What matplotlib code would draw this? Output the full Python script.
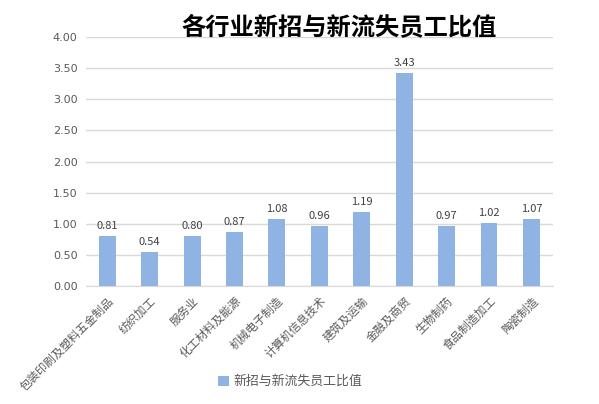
import matplotlib
matplotlib.use("Agg")
import matplotlib.pyplot as plt

plt.rcParams['font.family'] = ['Noto Sans CJK SC', 'DejaVu Sans']

categories = ['包装印刷及塑料五金制品', '纺织加工', '服务业', '化工材料及能源', '机械电子制造',
              '计算机信息技术', '建筑及运输', '金融及商贸', '生物制药', '食品制造加工', '陶瓷制造']
values = [0.81, 0.54, 0.80, 0.87, 1.08, 0.96, 1.19, 3.43, 0.97, 1.02, 1.07]
series_name = '新招与新流失员工比值'
title = '各行业新招与新流失员工比值'

fig = plt.figure(figsize=(5.99, 4.04), dpi=100)
ax = fig.add_axes([0.1436, 0.292, 0.779, 0.616])

x = range(len(categories))
bars = ax.bar(x, values, width=0.4, color='#8FB4E3', label=series_name, zorder=3)
for i, v in enumerate(values):
    ax.text(i, v + 0.08, f"{v:.2f}", ha='center', va='bottom', fontsize=8, color='#404040')

ax.set_xlim(-0.5, len(categories) - 0.5)
ax.set_ylim(0, 4)
ax.set_yticks([i * 0.5 for i in range(9)])
ax.set_yticklabels([f"{i * 0.5:.2f}" for i in range(9)], fontsize=8, color='#595959',
                   family='DejaVu Sans')
ax.set_xticks(list(x))
ax.set_xticklabels(categories, rotation=45, ha='right', rotation_mode='anchor',
                   fontsize=8.3, color='#595959')
ax.tick_params(length=0, pad=6)
ax.grid(axis='y', color='#D9D9D9', linewidth=1, zorder=0)
for s in ['top', 'right', 'left']:
    ax.spines[s].set_visible(False)
ax.spines['bottom'].set_color('#D9D9D9')

fig.text(0.566, 0.933, title, ha='center', va='center', fontsize=17.5, fontweight='bold', color='black')

fig.legend(loc='center', bbox_to_anchor=(0.485, 0.055), frameon=False, fontsize=9.3,
           handlelength=0.8, handleheight=0.8, handletextpad=0.4, labelcolor='#595959')

fig.savefig('out.png', dpi=100)
